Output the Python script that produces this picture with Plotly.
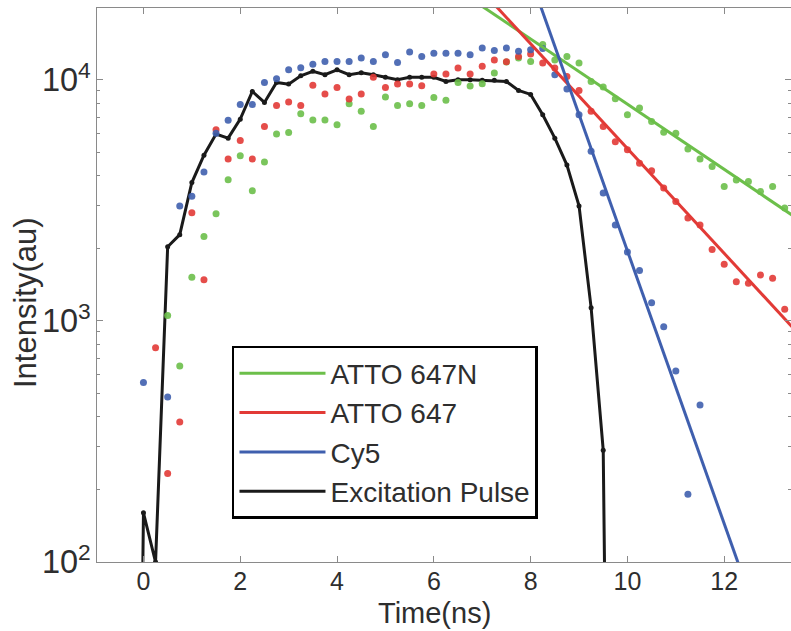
import plotly.graph_objects as go

# time grid (ns), 0.25 ns bins
t_pts = [i * 0.25 for i in range(0, 54)]  # 0.0 .. 13.25

cy5 = [556, None, 484, 3000, 3290, 4150, 6000, 6790, 7910, 7910,
       9750, 10100, 11000, 11220, 11600, 11920, 11920, 11920, 12320, 11920,
       12700, 11800, 13060, 12500, 12900, 12900, 12900, 12700, 13550, 13250,
       13550, 13130, 13330, 13500, 10500, 9160, 7160, 5050, 3390, 2500,
       1930, 1617, 1190, 946, 620, 191, 448, None, None, None,
       None, None, None, None]

atto647 = [None, 774, 233, 381, 2810, 1480, 6210, 4700, 5600, 4700,
           6400, 7830, 8090, 7830, 9490, 8730, 9290, 8330, 8730, 10240,
           9290, 9610, 9610, 9460, 10570, 10570, 11200, 10570, 11380, 12100,
           11900, 12500, 12800, 11740, 11200, 10330, 9040, 7400, 6400, 5540,
           5130, 4510, 4200, 3560, 3130, 2670, 2500, 1980, 1718, 1455,
           1432, 1551, 1504, 1117]

atto647n = [None, None, 1052, 650, 1518, 2240, 2780, 3850, 4840, 3470,
            4560, 5960, 6050, 7230, 6820, 6820, 6510, 7960, 7400, 6400,
            8490, 7820, 7960, 7820, 8450, 8220, 9750, 9440, 9640, 10670,
            11860, 12330, 11920, 14000, 12100, 12500, 11750, 9840, 9340, 8340,
            7160, 7640, 6720, 6060, 6010, 5160, 4690, 4370, 3610, 3840,
            3790, 3440, 3610, 2940]

# excitation pulse
t_exc = [i * 0.25 for i in range(-1, 40)]  # -0.25 .. 9.75
exc = [0.01, 160, 100, 2030, 2280, 3750, 4870, 5960, 5730, 6870,
       8950, 8060, 9750, 9600, 10400, 10850, 10500, 11000, 10500, 10700,
       10500, 10250, 10000, 10240, 10240, 10240, 9840, 10000, 10000, 9950,
       9950, 9840, 9040, 8700, 7160, 5730, 4430, 3000, 1135, 291, 0.01]

# single-exponential fit lines (end points)
fit_t = {"ATTO 647N": [7.0, 13.4], "ATTO 647": [7.3, 13.4], "Cy5": [8.2, 12.3]}
fit_v = {"ATTO 647N": [20180, 2750], "ATTO 647": [20050, 946], "Cy5": [20370, 97.5]}

GREEN = "#6cbf4a"
RED = "#e23a36"
BLUE = "#3f5fae"
BLACK = "#1a1a1a"

fig = go.Figure()

# excitation pulse (line + small markers)
fig.add_trace(go.Scatter(x=t_exc, y=exc, mode="lines", name="Excitation Pulse",
                         line=dict(color=BLACK, width=3),
                         legendgroup="d", legendrank=4))
fig.add_trace(go.Scatter(x=t_exc, y=exc, mode="markers", showlegend=False,
                         marker=dict(color=BLACK, size=5)))

for name, vals, col in [("ATTO 647N", atto647n, GREEN),
                        ("ATTO 647", atto647, RED),
                        ("Cy5", cy5, BLUE)]:
    fig.add_trace(go.Scatter(x=t_pts, y=vals, mode="markers", showlegend=False,
                             marker=dict(color=col, size=7, opacity=0.9)))

for name, col, grp, rank in [("ATTO 647N", GREEN, "a", 1),
                             ("ATTO 647", RED, "b", 2),
                             ("Cy5", BLUE, "c", 3)]:
    fig.add_trace(go.Scatter(x=fit_t[name], y=fit_v[name], mode="lines", name=name,
                             line=dict(color=col, width=3),
                             legendgroup=grp, legendrank=rank))

axis_col = "#8a8a8a"
font_fam = "Liberation Sans, Arial, sans-serif"
txt_col = "#2e2e2e"

fig.update_layout(
    width=791, height=631,
    margin=dict(l=97, r=0, t=8, b=69),
    plot_bgcolor="white", paper_bgcolor="white",
    font=dict(family=font_fam, color=txt_col),
    showlegend=True,
    legend=dict(x=0.1945, y=0.39, xanchor="left", yanchor="top",
                bordercolor="black", borderwidth=2.5, bgcolor="white",
                font=dict(size=28, color=txt_col, family=font_fam),
                tracegroupgap=0, traceorder="grouped",
                itemwidth=86),
    xaxis=dict(range=[-0.96, 13.38], tickvals=[0, 2, 4, 6, 8, 10, 12],
               ticks="inside", ticklen=6, tickcolor=axis_col,
               showline=True, linecolor=axis_col, linewidth=1.2, mirror="allticks",
               showgrid=False, zeroline=False, ticklabelstandoff=-3,
               tickfont=dict(size=25, color=txt_col)),
    yaxis=dict(type="log", range=[2, 4.298], dtick=1, exponentformat="power",
               ticks="inside", ticklen=6, tickcolor=axis_col,
               minor=dict(ticks="inside", ticklen=3, tickcolor=axis_col, showgrid=False),
               showline=True, linecolor=axis_col, linewidth=1.2, mirror="allticks",
               showgrid=False, zeroline=False,
               tickfont=dict(size=26, color=txt_col)),
    annotations=[
        dict(text="Time(ns)", xref="paper", yref="paper", x=0.487, y=-0.092,
             xanchor="center", yanchor="middle", showarrow=False,
             font=dict(size=29, color=txt_col)),
        dict(text="Intensity(au)", xref="paper", yref="paper", x=-0.1037, y=0.4675,
             xanchor="center", yanchor="middle", showarrow=False, textangle=-90,
             font=dict(size=31, color=txt_col)),
    ],
)

fig.write_html("out.html")
